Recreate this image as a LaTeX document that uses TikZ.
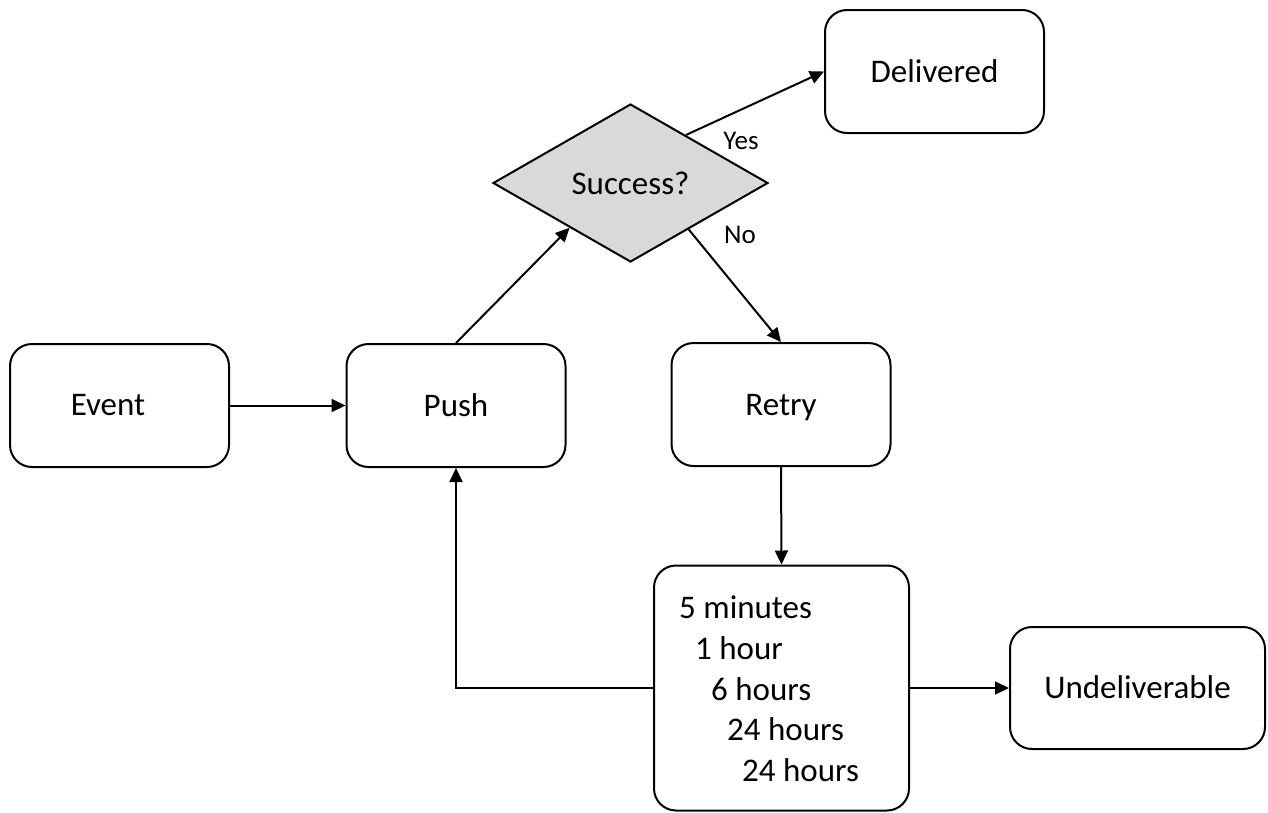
\documentclass[tikz,border=0pt]{standalone}
\usepackage{fontspec}
\setmainfont{Carlito}
\usetikzlibrary{arrows.meta,shapes.geometric,calc}
\begin{document}
\begin{tikzpicture}[x=1pt,y=-1pt,
  box/.style={draw,line width=2pt,rounded corners=22pt,minimum width=#1,inner sep=0pt,text height=27pt,text depth=6pt},
  box/.default=219pt,
  lbl/.style={font=\fontsize{33}{38}\selectfont},
  small/.style={font=\fontsize{27}{30}\selectfont,inner sep=0pt},
  conn/.style={line width=2pt,-{Triangle[length=14pt,width=13pt]}},
  dec/.style={draw,line width=2pt,fill=black!15,shape=diamond,minimum width=275pt,minimum height=158pt,inner sep=0pt,aspect=1.74}]
\useasboundingbox (0,0) rectangle (1268,812);
\node[box,minimum height=123pt] (event) at (119.5,405.5) {};
\node[lbl] (eventt) at (108,405) {Event};
\node[box,minimum height=123pt,lbl] (push) at (456,405.5) {Push};
\node[box,minimum height=123pt,lbl] (retry) at (781,404.5) {Retry};
\node[box,minimum height=123pt,lbl] (deliv) at (934.5,71.5) {Delivered};
\node[box=255pt,minimum height=122pt,lbl] (undel) at (1137.5,688) {Undeliverable};
\node[box=255pt,minimum height=245pt,text height=0pt,text depth=0pt] (times) at (781.5,688) {};
\node[dec,lbl] (succ) at (630.5,183) {Success?};
\node[lbl,anchor=base west,inner sep=0pt] (t1) at (679,618) {5 minutes};
\node[lbl,anchor=base west,inner sep=0pt] (t2) at (695,659) {1 hour};
\node[lbl,anchor=base west,inner sep=0pt] (t3) at (711,700) {6 hours};
\node[lbl,anchor=base west,inner sep=0pt] (t4) at (727,740) {24 hours};
\node[lbl,anchor=base west,inner sep=0pt] (t5) at (742,781) {24 hours};
\coordinate (inL) at ($(succ.west)!0.56!(succ.south)$);
\coordinate (outY) at ($(succ.north)!0.4!(succ.east)$);
\coordinate (outN) at ($(succ.east)!0.58!(succ.south)$);
\draw[conn] (event.east) -- (push.west);
\draw[conn] (push.north) -- (inL);
\draw[conn] (outY) -- (deliv.west);
\draw[conn] (outN) -- (retry.north);
\draw[conn] (retry.south) -- (times.north);
\draw[conn] (times.west) -| (push.south);
\draw[conn] (times.east) -- (undel.west);
\node[small] (yes) at (741,141) {Yes};
\node[small] (no) at (740,235) {No};
\end{tikzpicture}
\end{document}
